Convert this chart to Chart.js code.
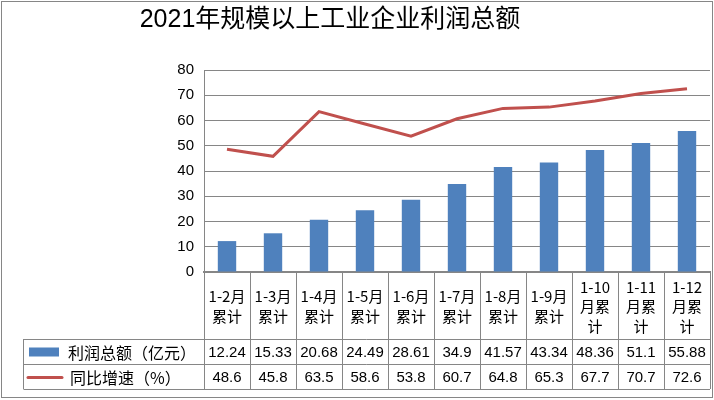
<!DOCTYPE html>
<html>
<head>
<meta charset="utf-8">
<script src="https://cdn.jsdelivr.net/npm/chart.js@4"></script>
<style>
  html, body { margin: 0; padding: 0; background: #fff; }
  #wrap { width: 714px; height: 400px; position: relative; }
</style>
</head>
<body>
<div id="wrap"><canvas id="c" width="714" height="400"></canvas></div>
<script>
const title = "2021年规模以上工业企业利润总额";
const categories = [
  ["1-2月", "累计"], ["1-3月", "累计"], ["1-4月", "累计"], ["1-5月", "累计"],
  ["1-6月", "累计"], ["1-7月", "累计"], ["1-8月", "累计"], ["1-9月", "累计"],
  ["1-10", "月累", "计"], ["1-11", "月累", "计"], ["1-12", "月累", "计"]
];
const seriesNames = ["利润总额（亿元）", "同比增速（%）"];
const profitTotal = [12.24, 15.33, 20.68, 24.49, 28.61, 34.9, 41.57, 43.34, 48.36, 51.1, 55.88];
const growthRate = [48.6, 45.8, 63.5, 58.6, 53.8, 60.7, 64.8, 65.3, 67.7, 70.7, 72.6];
const yTicks = [0, 10, 20, 30, 40, 50, 60, 70, 80];

const BLUE = "#4F81BD";
const RED = "#C0504D";
const GRID = "#868686";
const LATIN = "'Liberation Sans', 'Noto Sans CJK SC', sans-serif";
const CJK = "'Noto Sans CJK SC', 'Liberation Sans', sans-serif";

const tablePlugin = {
  id: "dataTable",
  afterDraw(chart) {
    const ctx = chart.ctx;
    const x = chart.scales.x;
    const area = chart.chartArea;
    const left = area.left, right = area.right, top = area.bottom;
    const headerBottom = top + 67;
    const row1Bottom = headerBottom + 25;
    const row2Bottom = row1Bottom + 25;
    const legendLeft = 23.5;
    const n = categories.length;
    const colW = (right - left) / n;

    ctx.save();
    // title
    ctx.fillStyle = "#000";
    ctx.font = "25px " + LATIN;
    ctx.textAlign = "center";
    ctx.textBaseline = "middle";
    ctx.fillText(title, 330, 20);

    // table lines
    ctx.strokeStyle = GRID;
    ctx.lineWidth = 1;
    ctx.beginPath();
    for (let i = 0; i <= n; i++) {
      const px = Math.round(left + i * colW) + 0.5;
      ctx.moveTo(px, top);
      ctx.lineTo(px, row2Bottom);
    }
    ctx.moveTo(legendLeft, headerBottom + 0.5); ctx.lineTo(right, headerBottom + 0.5);
    ctx.moveTo(legendLeft, row1Bottom + 0.5); ctx.lineTo(right, row1Bottom + 0.5);
    ctx.moveTo(legendLeft, row2Bottom + 0.5); ctx.lineTo(right, row2Bottom + 0.5);
    ctx.moveTo(legendLeft, headerBottom); ctx.lineTo(legendLeft, row2Bottom);
    ctx.stroke();

    // header labels
    ctx.fillStyle = "#000";
    ctx.textAlign = "center";
    ctx.textBaseline = "middle";
    ctx.font = "15px " + CJK;
    const headerMid = (top + headerBottom) / 2 + 1;
    categories.forEach((lines, i) => {
      const cx = x.getPixelForValue(i);
      const lh = 19.5;
      const start = headerMid - (lines.length - 1) * lh / 2;
      lines.forEach((t, j) => ctx.fillText(t, cx, start + j * lh));
    });

    // values
    ctx.font = "15px " + LATIN;
    const r1 = (headerBottom + row1Bottom) / 2 + 1;
    const r2 = (row1Bottom + row2Bottom) / 2 + 1;
    profitTotal.forEach((v, i) => ctx.fillText(String(v), x.getPixelForValue(i), r1));
    growthRate.forEach((v, i) => ctx.fillText(String(v), x.getPixelForValue(i), r2));

    // legend keys
    ctx.fillStyle = BLUE;
    ctx.fillRect(29, r1 - 5, 30, 9);
    ctx.strokeStyle = RED;
    ctx.lineWidth = 3;
    ctx.lineCap = "round";
    ctx.beginPath();
    ctx.moveTo(28, r2); ctx.lineTo(62, r2);
    ctx.stroke();
    ctx.fillStyle = "#000";
    ctx.textAlign = "left";
    ctx.font = "16px " + CJK;
    ctx.fillText(seriesNames[0], 68, r1);
    ctx.fillText(seriesNames[1], 70, r2);

    // outer border
    ctx.strokeStyle = GRID;
    ctx.lineWidth = 1;
    ctx.strokeRect(1.5, 1.5, 711, 396);
    ctx.restore();
  }
};

new Chart(document.getElementById("c"), {
  data: {
    labels: categories.map(l => l.join("")),
    datasets: [
      {
        type: "line",
        label: seriesNames[1],
        data: growthRate,
        borderColor: RED,
        borderWidth: 3,
        pointRadius: 0,
        tension: 0,
        order: 0
      },
      {
        type: "bar",
        label: seriesNames[0],
        data: profitTotal,
        backgroundColor: BLUE,
        categoryPercentage: 1,
        barPercentage: 0.4,
        order: 1
      }
    ]
  },
  options: {
    responsive: false,
    animation: false,
    devicePixelRatio: 1,
    layout: { padding: { left: 160, right: 4, top: 70, bottom: 128 } },
    plugins: {
      legend: { display: false },
      title: { display: false },
      tooltip: { enabled: false }
    },
    scales: {
      x: {
        display: true,
        grid: { display: false, drawTicks: false },
        ticks: { display: false },
        border: { display: true, color: GRID, width: 2 },
        afterFit: s => { s.height = 0; }
      },
      y: {
        min: 0, max: 80,
        afterBuildTicks: s => { s.ticks = yTicks.map(v => ({ value: v })); },
        grid: { color: GRID, lineWidth: 1, drawTicks: false },
        border: { display: true, color: GRID, width: 1 },
        ticks: { color: "#000", padding: 10, font: { family: LATIN, size: 15 } },
        afterFit: s => { s.width = 44; }
      }
    }
  },
  plugins: [tablePlugin]
});
</script>
</body>
</html>
